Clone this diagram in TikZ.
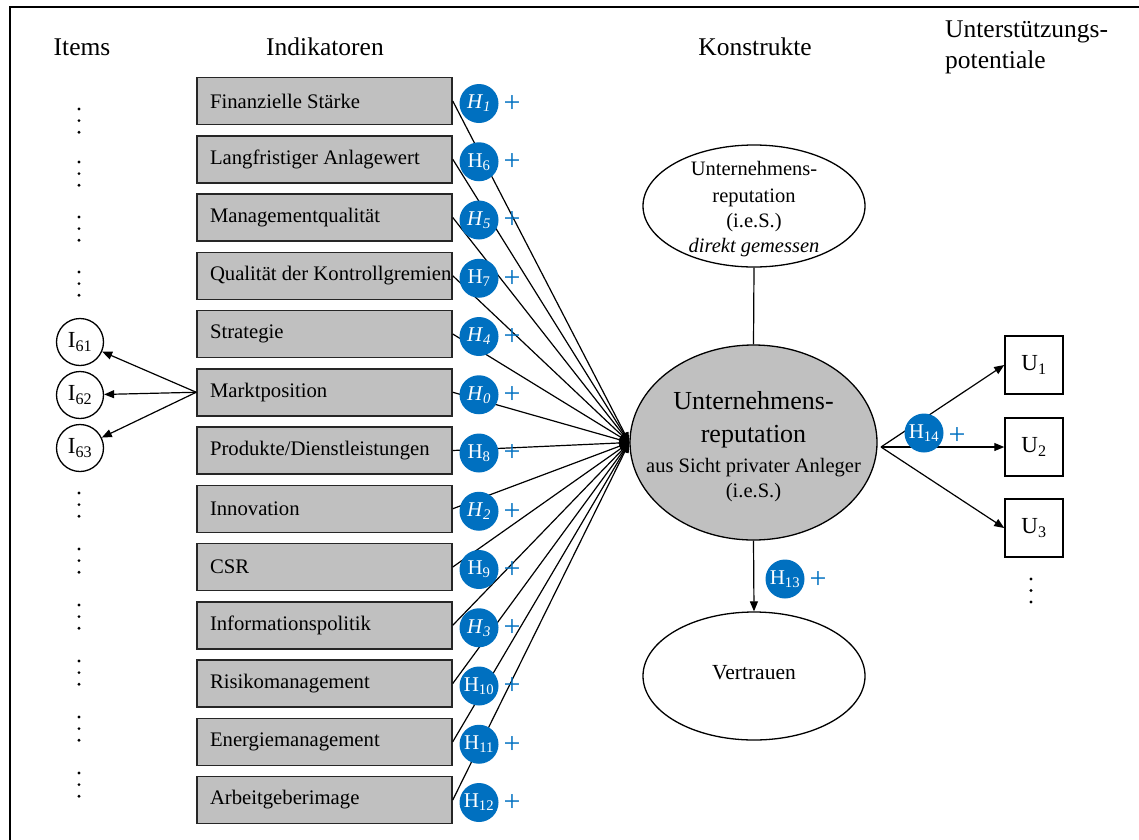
\documentclass[tikz,border=0pt]{standalone}
\usepackage{fontspec}
\setmainfont{Liberation Serif}
\usetikzlibrary{arrows.meta,shapes.geometric}
\definecolor{hblue}{HTML}{0070C0}
\definecolor{boxgray}{HTML}{C0C0C0}
\newcommand\hyit[1]{\textit{H}\textsubscript{\textit{#1}}}
\newcommand\hyup[1]{H\textsubscript{#1}}
\begin{document}
\begin{tikzpicture}[x=1pt,y=-1pt,
  header/.style={font=\fontsize{25.5}{30}\selectfont,inner sep=0pt},
  indbox/.style={draw=black!85,line width=1.5pt,fill=boxgray,minimum width=255pt,
    minimum height=47pt,inner xsep=13pt,inner ysep=0pt,font=\fontsize{20.7}{24}\selectfont},
  hyp/.style={circle,fill=hblue,text=white,minimum size=39pt,inner sep=0pt,
    font=\fontsize{21}{24}\selectfont},
  plus/.style={text=hblue,font=\fontsize{30}{30}\selectfont,inner sep=0pt},
  conn/.style={line width=1.2pt},
  arr/.style={line width=1.2pt,-{Triangle[length=10pt,width=8pt]}},
  construct/.style={ellipse,draw,line width=1.3pt,inner sep=0pt},
  ctext/.style={font=\fontsize{20.5}{24}\selectfont,inner sep=0pt,text height=0.7em,text depth=0.2em},
  item/.style={circle,draw,line width=1.3pt,fill=white,minimum size=47pt,inner sep=0pt,
    font=\fontsize{23}{26}\selectfont},
  ubox/.style={draw,line width=1.5pt,minimum size=58pt,inner sep=0pt,
    font=\fontsize{23}{26}\selectfont},
  dot/.style={fill=black}
]
\useasboundingbox (0,0) rectangle (1139,839);

% frame
\draw[line width=1.5pt] (10,845) -- (10,7) -- (1145,7);

% column headers
\node[header] (hItems) at (82,47) {Items};
\node[header] (hInd) at (325,47) {Indikatoren};
\node[header] (hKon) at (755,47) {Konstrukte};
\node[header,anchor=west] (hUnt1) at (945,32) {Unterstützungs-};
\node[header,anchor=west] (hUnt2) at (945,62) {potentiale};

% constructs
\node[construct,fill=boxgray,minimum width=247pt,minimum height=195pt] (main) at (753.5,442.5) {};
\node[ctext,font=\fontsize{26}{30}\selectfont] (m1) at (753.5,407) {Unternehmens-};
\node[ctext,font=\fontsize{26}{30}\selectfont] (m2) at (753.5,440) {reputation};
\node[ctext] (m3) at (753.5,470) {aus Sicht privater Anleger};
\node[ctext] (m4) at (753.5,495) {(i.e.S.)};

\node[construct,fill=white,minimum width=222pt,minimum height=122pt] (direct) at (754,206) {};
\node[ctext] (d1) at (754,173) {Unternehmens-};
\node[ctext] (d2) at (754,200) {reputation};
\node[ctext] (d3) at (754,225) {(i.e.S.)};
\node[ctext] (d4) at (754,250) {\textit{direkt gemessen}};

\node[construct,fill=white,minimum width=222pt,minimum height=128pt] (trust) at (754,676) {};
\node[ctext,font=\fontsize{21.5}{24}\selectfont] (t1) at (754,677) {Vertrauen};

\draw[conn] (direct.south) -- (main.north);
\draw[arr] (main.south) -- (trust.north);

% indicators
\foreach \i/\t in {1/Finanzielle Stärke,2/Langfristiger Anlagewert,3/Managementqualität,
  4/Qualität der Kontrollgremien,5/Strategie,6/Marktposition,7/{Produkte/Dienstleistungen},
  8/Innovation,9/CSR,10/Informationspolitik,11/Risikomanagement,12/Energiemanagement,
  13/Arbeitgeberimage}{
  \pgfmathsetmacro\yy{101+(\i-1)*58.25}
  \node[indbox] (b\i) at (324.5,\yy) {\makebox[229pt][l]{\t}};
}
\foreach \i in {1,...,13}{
  \draw[arr] (b\i.east) -- (main.west);
}
\foreach \i/\h in {1/\hyit{1},2/\hyup{6},3/\hyit{5},4/\hyup{7},5/\hyit{4},6/\hyit{0},
  7/\hyup{8},8/\hyit{2},9/\hyup{9},10/\hyit{3},11/\hyup{10},12/\hyup{11},13/\hyup{12}}{
  \pgfmathsetmacro\yy{101+(\i-1)*58.25}
  \node[hyp] (h\i) at (479,\yy+2.5) {\h};
  \node[plus] (p\i) at (512,\yy+3) {+};
}

% items
\node[item] (i61) at (80,342) {I\textsubscript{61}};
\node[item] (i62) at (80,395) {I\textsubscript{62}};
\node[item] (i63) at (80,448) {I\textsubscript{63}};
\foreach \n in {i61,i62,i63}{
  \draw[arr] (b6.west) -- (\n);
}
\foreach \y in {109,162,217,272,493,549,605,661,717,773}{
  \foreach \k in {0,1,2}{
    \fill[dot] (79,\y+\k*11.6) circle (1.6pt);
  }
}

% support potentials
\coordinate (rfork) at (881,447);
\node[ubox] (u1) at (1034,365) {U\textsubscript{1}};
\node[ubox] (u2) at (1034,447) {U\textsubscript{2}};
\node[ubox] (u3) at (1034,528) {U\textsubscript{3}};
\foreach \n in {u1,u2,u3}{
  \draw[arr] (rfork) -- (\n.west);
}
\foreach \k in {0,1,2}{
  \fill[dot] (1031,579+\k*11.5) circle (1.6pt);
}

% hypotheses on the constructs
\node[hyp] (h13) at (785,579) {\hyup{13}};
\node[plus] (p13) at (818,580) {+};
\node[hyp] (h14) at (924,433) {\hyup{14}};
\node[plus] (p14) at (957,436) {+};
\end{tikzpicture}
\end{document}
